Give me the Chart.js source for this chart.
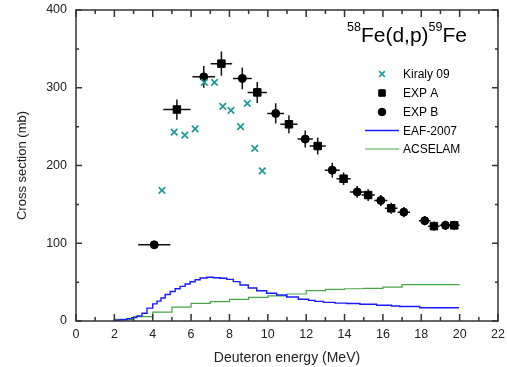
<!DOCTYPE html>
<html>
<head>
<meta charset="utf-8">
<script src="https://cdn.jsdelivr.net/npm/chart.js@4.4.0/dist/chart.umd.min.js"></script>
<style>
  html, body { margin: 0; padding: 0; background: #fff; }
  canvas { display: block; }
</style>
</head>
<body>
<canvas id="myChart" width="507" height="367"></canvas>
<script>
// Kiraly 09
const kiralyE = [4.48, 5.12, 5.67, 6.21, 6.69, 7.22, 7.65, 8.08, 8.58, 8.93, 9.32, 9.71];
const kiralyXS = [168, 243, 239, 247, 307, 307, 276, 271, 250, 280, 222, 193];

// EXP A (squares)
const expAE = [5.26, 7.58, 9.45, 11.1, 12.6, 13.95, 15.23, 16.43, 18.66, 19.72];
const expAXS = [272, 331, 294, 253, 225, 183, 162, 145, 122, 123];
const expAdE = [0.71, 0.56, 0.5, 0.45, 0.42, 0.37, 0.35, 0.33, 0.3, 0.28];
const expAdXS = [13, 15.5, 13.5, 11.5, 11, 8, 7.5, 7, 6, 6];

// EXP B (circles)
const expBE = [4.08, 6.66, 8.67, 10.41, 11.95, 13.36, 14.66, 15.89, 17.09, 18.18, 19.26];
const expBXS = [98, 314, 312, 267, 234, 194, 166, 155, 140, 129, 123];
const expBdE = [0.84, 0.59, 0.49, 0.44, 0.4, 0.39, 0.38, 0.34, 0.32, 0.3, 0.3];
const expBdXS = [3, 14, 14, 13, 11, 9.5, 7.5, 7, 6.5, 6, 6];

// EAF-2007 (histogram, left bin edges)
const eafE = [2.0, 2.3, 2.65, 2.91, 3.18, 3.44, 3.7, 4.0, 4.22, 4.43, 4.65, 4.91, 5.17, 5.43, 5.69, 5.95,
  6.21, 6.47, 6.82, 7.16, 7.51, 7.86, 8.2, 8.55, 8.98, 9.42, 9.94, 10.46, 10.98, 11.59, 12.13, 12.46,
  12.9, 13.5, 14.1, 14.8, 15.67, 16.45, 16.88, 17.92, 19.57, 19.97];
const eafXS = [0.3, 0.9, 1.7, 3.0, 4.3, 6.4, 9.9, 16.5, 22, 25.5, 29.5, 34, 38, 41.5, 44.5, 47.5,
  50.5, 53, 55.3, 56.2, 55.7, 54.9, 53.6, 50.6, 46.3, 42.5, 39, 35.6, 33.4, 30.8, 28, 26.5,
  25.3, 24, 23, 22.5, 21.5, 20.2, 19.2, 18.7, 17.1, 17.1];

// ACSELAM (histogram, 1 MeV bins)
const acsE = [2, 3, 4, 5, 6, 7, 8, 9, 10, 11, 12, 13, 14, 15, 16, 17, 18, 19, 20];
const acsXS = [0.3, 2, 5.6, 11.5, 17.8, 22.7, 24.9, 27.9, 30.5, 32.2, 34.7, 39, 40.7, 41.5, 42, 43.5, 46.8, 46.8, 46.8];

const xTicks = [0, 2, 4, 6, 8, 10, 12, 14, 16, 18, 20, 22];
const yTicks = [0, 100, 200, 300, 400];

const FONT = "'Liberation Sans', Arial, sans-serif";
const TEAL = '#1f9a9a';

function pts(xs, ys) {
  return xs.map((x, i) => ({ x: x, y: ys[i] }));
}

const errorBars = {
  id: 'errorBars',
  beforeDatasetsDraw(chart) {
    const ctx = chart.ctx;
    const xs = chart.scales.x, ys = chart.scales.y;
    const sets = [[expAE, expAXS, expAdE, expAdXS], [expBE, expBXS, expBdE, expBdXS]];
    ctx.save();
    ctx.strokeStyle = '#111';
    ctx.lineWidth = 1.5;
    sets.forEach(s => {
      s[0].forEach((e, i) => {
        const px = xs.getPixelForValue(e), py = ys.getPixelForValue(s[1][i]);
        ctx.beginPath();
        ctx.moveTo(xs.getPixelForValue(e - s[2][i]), py);
        ctx.lineTo(xs.getPixelForValue(e + s[2][i]), py);
        ctx.moveTo(px, ys.getPixelForValue(s[1][i] - s[3][i]));
        ctx.lineTo(px, ys.getPixelForValue(s[1][i] + s[3][i]));
        ctx.stroke();
      });
    });
    ctx.restore();
  }
};

const frame = {
  id: 'frame',
  afterDraw(chart) {
    const ctx = chart.ctx;
    const a = chart.chartArea;
    const xs = chart.scales.x, ys = chart.scales.y;
    ctx.save();
    ctx.strokeStyle = '#333';
    ctx.lineWidth = 1.5;
    ctx.strokeRect(a.left, a.top, a.right - a.left, a.bottom - a.top);
    ctx.beginPath();
    for (let v = 0; v <= 22; v++) {
      const px = xs.getPixelForValue(v);
      const len = v % 2 === 0 ? 7 : 4;
      ctx.moveTo(px, a.bottom); ctx.lineTo(px, a.bottom - len);
      ctx.moveTo(px, a.top); ctx.lineTo(px, a.top + len);
    }
    for (let v = 0; v <= 400; v += 50) {
      const py = ys.getPixelForValue(v);
      const len = v % 100 === 0 ? 6 : 3;
      ctx.moveTo(a.left, py); ctx.lineTo(a.left + len, py);
      ctx.moveTo(a.right, py); ctx.lineTo(a.right - len, py);
    }
    ctx.stroke();

    // reaction label
    ctx.fillStyle = '#000';
    ctx.textBaseline = 'alphabetic';
    let x = 347;
    const parts = [['58', 12.5, 31], ['Fe(d,p)', 21, 42], ['59', 12.5, 31], ['Fe', 21, 42]];
    parts.forEach(p => {
      ctx.font = p[1] + 'px ' + FONT;
      ctx.fillText(p[0], x, p[2]);
      x += ctx.measureText(p[0]).width;
    });

    // legend
    const items = chart.data.datasets;
    const rows = [74, 93, 112, 130.5, 149];
    ctx.font = '12px ' + FONT;
    ctx.textBaseline = 'middle';
    items.forEach((ds, i) => {
      const y = rows[i];
      if (ds.showLine) {
        ctx.strokeStyle = ds.borderColor;
        ctx.lineWidth = ds.borderWidth;
        ctx.beginPath();
        ctx.moveTo(365, y); ctx.lineTo(399, y);
        ctx.stroke();
      } else {
        ctx.fillStyle = ds.backgroundColor;
        ctx.strokeStyle = ds.borderColor;
        ctx.lineWidth = ds.borderWidth;
        Chart.helpers.drawPoint(ctx, {
          pointStyle: ds.pointStyle,
          radius: ds.legendRadius,
          borderWidth: ds.borderWidth,
          rotation: 0
        }, 382, y);
      }
      ctx.fillStyle = '#000';
      ctx.fillText(ds.label, 403, y + 1);
    });
    ctx.restore();
  }
};

Chart.defaults.font.family = FONT;
Chart.defaults.color = '#222';

const ctx = document.getElementById('myChart');
const myChart = new Chart(ctx, {
  type: 'scatter',
  data: {
    datasets: [
      {
        label: 'Kiraly 09',
        data: pts(kiralyE, kiralyXS),
        pointStyle: 'crossRot',
        pointRadius: 4.6,
        legendRadius: 4,
        borderColor: TEAL,
        backgroundColor: TEAL,
        borderWidth: 1.7,
        showLine: false,
        order: 1,
      },
      {
        label: 'EXP A',
        data: pts(expAE, expAXS),
        pointStyle: 'rect',
        pointRadius: 5.3,
        legendRadius: 4.6,
        borderColor: '#000',
        backgroundColor: '#000',
        borderWidth: 1,
        showLine: false,
        order: 1,
      },
      {
        label: 'EXP B',
        data: pts(expBE, expBXS),
        pointStyle: 'circle',
        pointRadius: 4,
        legendRadius: 3.8,
        borderColor: '#000',
        backgroundColor: '#000',
        borderWidth: 1,
        showLine: false,
        order: 1,
      },
      {
        label: 'EAF-2007',
        data: pts(eafE, eafXS),
        showLine: true,
        stepped: 'after',
        pointRadius: 0,
        borderColor: '#1a1aff',
        borderWidth: 1.4,
        fill: false,
        order: 3,
      },
      {
        label: 'ACSELAM',
        data: pts(acsE, acsXS),
        showLine: true,
        stepped: 'after',
        pointRadius: 0,
        borderColor: '#45a845',
        borderWidth: 1.2,
        fill: false,
        order: 3,
      },
    ],
  },
  options: {
    responsive: false,
    animation: false,
    events: [],
    layout: { padding: { top: 10, right: 9, left: 0, bottom: 0 } },
    plugins: {
      legend: { display: false },
      tooltip: { enabled: false },
    },
    scales: {
      x: {
        type: 'linear',
        min: 0,
        max: 22,
        afterBuildTicks: (s) => { s.ticks = xTicks.map(v => ({ value: v })); },
        afterFit: (s) => { s.height = 46; s.paddingLeft = 0; s.paddingRight = 0; },
        ticks: { font: { size: 12.5 }, padding: 6, maxRotation: 0 },
        grid: { display: false, drawTicks: false },
        border: { display: false },
        title: { display: true, text: 'Deuteron energy (MeV)', font: { size: 14 }, padding: { top: 0, bottom: 0 } },
      },
      y: {
        type: 'linear',
        min: 0,
        max: 400,
        afterBuildTicks: (s) => { s.ticks = yTicks.map(v => ({ value: v })); },
        afterFit: (s) => { s.width = 76; s.paddingTop = 0; s.paddingBottom = 0; },
        ticks: { font: { size: 12.5 }, padding: 9 },
        grid: { display: false, drawTicks: false },
        border: { display: false },
        title: { display: true, text: 'Cross section (mb)', font: { size: 13 }, padding: { top: 15, bottom: 0 } },
      },
    },
  },
  plugins: [errorBars, frame],
});
</script>
</body>
</html>
